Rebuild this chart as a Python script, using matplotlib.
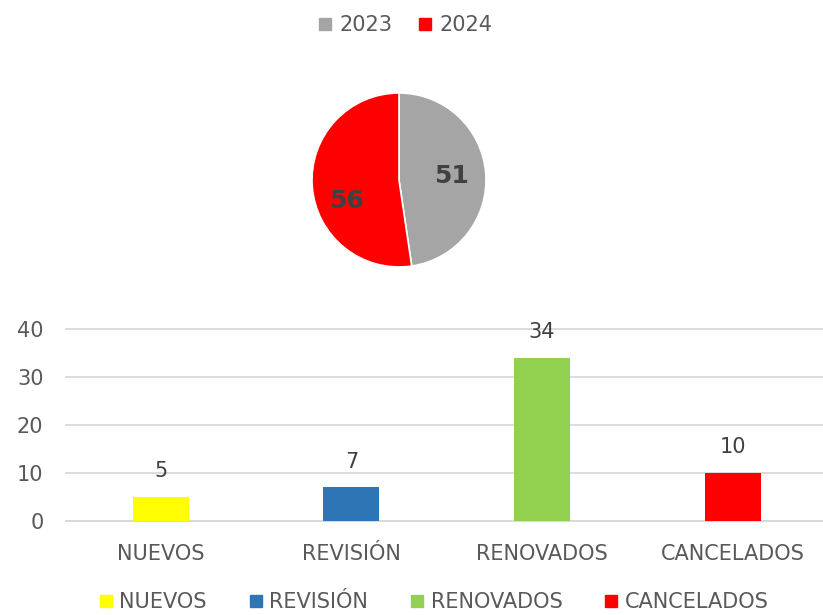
import matplotlib.pyplot as plt
from matplotlib.lines import Line2D

plt.rcParams['font.family'] = ['DejaVu Sans']

# totals per year
years = ['2023', '2024']
year_totals = [51, 56]
year_colors = ['#A5A5A5', '#FF0000']

# files by status
status = ['NUEVOS', 'REVISIÓN', 'RENOVADOS', 'CANCELADOS']
status_counts = [5, 7, 34, 10]
status_colors = ['#FFFF00', '#2E75B6', '#92D050', '#FF0000']

fig = plt.figure(figsize=(8.23, 6.15), dpi=100)

# pie
ax1 = fig.add_axes([0.3791, 0.5659, 0.2114, 0.2829])
wedges, texts, autotexts = ax1.pie(year_totals, colors=year_colors, startangle=90,
                                   counterclock=False, autopct=lambda p: '%d' % round(p * sum(year_totals) / 100),
                                   pctdistance=0.6, wedgeprops=dict(edgecolor='white', linewidth=1.2))
for t in autotexts:
    t.set_fontsize(18)
    t.set_fontweight('bold')
    t.set_color('#404040')
# second label sits a bit lower in the red slice
px, py = autotexts[1].get_position()
autotexts[1].set_position((px, py - 0.2))
ax1.set_xlim(-1, 1)
ax1.set_ylim(-1, 1)
ax1.set_aspect('equal')

handles = [Line2D([], [], marker='s', linestyle='none', markersize=9, color=c) for c in year_colors]
fig.legend(handles, years, loc='center', bbox_to_anchor=(0.492, 0.959), ncol=2, frameon=False,
           fontsize=15, handlelength=0.7, handletextpad=0.35, columnspacing=1.2, labelcolor='#595959')

# bars
ax2 = fig.add_axes([0.0798, 0.1533, 0.926, 0.3122])
x = range(len(status))
bars = ax2.bar(x, status_counts, width=0.294, color=status_colors, zorder=3)
for b, v in zip(bars, status_counts):
    ax2.text(b.get_x() + b.get_width() / 2, v + 3.2, str(v), ha='center', va='bottom',
             fontsize=15, color='#404040', clip_on=False)
ax2.set_xlim(-0.5, 3.5)
ax2.set_ylim(0, 40)
ax2.set_yticks([0, 10, 20, 30, 40])
ax2.set_xticks(list(x))
ax2.set_xticklabels(status)
ax2.grid(axis='y', color='#D9D9D9', linewidth=1.3, zorder=0)
for line in ax2.get_ygridlines():
    line.set_clip_on(False)
for s in ['top', 'right', 'left']:
    ax2.spines[s].set_visible(False)
ax2.spines['bottom'].set_color('#D9D9D9')
ax2.spines['bottom'].set_linewidth(1.3)
ax2.tick_params(axis='both', length=0, labelsize=15, labelcolor='#595959')
ax2.tick_params(axis='x', pad=17)
ax2.tick_params(axis='y', pad=16)

handles2 = [Line2D([], [], marker='s', linestyle='none', markersize=9, color=c) for c in status_colors]
fig.legend(handles2, status, loc='center', bbox_to_anchor=(0.527, 0.021), ncol=4, frameon=False,
           fontsize=15, handlelength=0.7, handletextpad=0.3, columnspacing=2.0, labelcolor='#595959')

fig.savefig('out.png', dpi=100)
